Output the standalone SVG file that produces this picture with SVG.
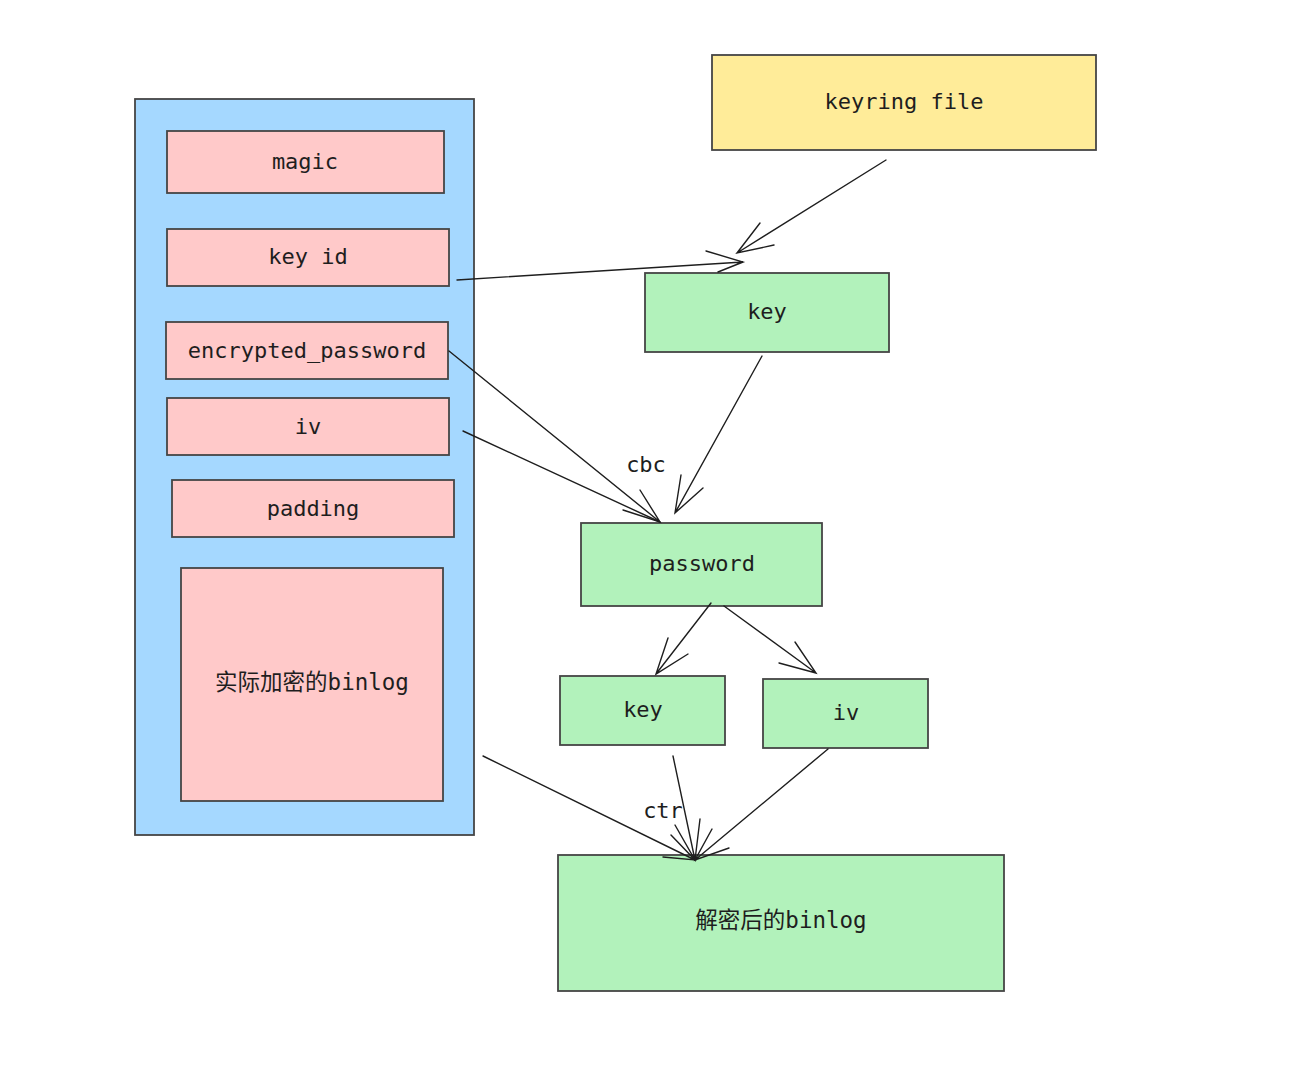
<svg xmlns="http://www.w3.org/2000/svg" width="1290" height="1065" viewBox="0 0 1290 1065">
<style>
.box{stroke:#454545;stroke-width:1.8}
.blue{fill:#a5d8ff}.pink{fill:#ffc9c9}.green{fill:#b2f2bb}.yellow{fill:#ffec99}
text{font-family:"DejaVu Sans Mono","Liberation Mono","Noto Sans CJK SC",monospace;font-size:22px;fill:#1e1e1e;text-anchor:middle;dominant-baseline:central}
.cjk{font-family:"DejaVu Sans Mono","Noto Sans CJK SC",monospace;font-size:22.5px}
.c{fill:none;stroke:#1e1e1e;stroke-width:1.4;stroke-linecap:round}
</style>
<rect width="1290" height="1065" fill="#ffffff"/>
<g id="container"><rect class="box blue" x="135" y="99" width="339" height="736"/></g>
<g id="magic"><rect class="box pink" x="167" y="131" width="277" height="62"/><text x="305" y="161">magic</text></g>
<g id="keyid"><rect class="box pink" x="167" y="229" width="282" height="57"/><text x="308" y="256">key id</text></g>
<g id="encpwd"><rect class="box pink" x="166" y="322" width="282" height="57"/><text x="307" y="350">encrypted_password</text></g>
<g id="iv1"><rect class="box pink" x="167" y="398" width="282" height="57"/><text x="308" y="426">iv</text></g>
<g id="padding"><rect class="box pink" x="172" y="480" width="282" height="57"/><text x="313" y="508">padding</text></g>
<g id="encbinlog"><rect class="box pink" x="181" y="568" width="262" height="233"/><text class="cjk" x="312" y="682">实际加密的binlog</text></g>
<g id="keyring"><rect class="box yellow" x="712" y="55" width="384" height="95"/><text x="904" y="101">keyring file</text></g>
<g id="key"><rect class="box green" x="645" y="273" width="244" height="79"/><text x="767" y="311">key</text></g>
<g id="password"><rect class="box green" x="581" y="523" width="241" height="83"/><text x="702" y="563">password</text></g>
<g id="key2"><rect class="box green" x="560" y="676" width="165" height="69"/><text x="643" y="709">key</text></g>
<g id="iv2"><rect class="box green" x="763" y="679" width="165" height="69"/><text x="846" y="712">iv</text></g>
<g id="decbinlog"><rect class="box green" x="558" y="855" width="446" height="136"/><text class="cjk" x="781" y="920">解密后的binlog</text></g>
<g id="connectors">
<path class="c" d="M886 160 L737 253 M760 223 L737 253 L774 245"/>
<path class="c" d="M457 280 L743 262 M706 251 L743 262 L718 272"/>
<path class="c" d="M762 356 L675 513 M681 475 L675 513 L703 488"/>
<path class="c" d="M449 351 L660 522 M640 490 L660 522 L623 510"/>
<path class="c" d="M463 431 L660 522"/>
<path class="c" d="M711 603 L656 674 M668 638 L656 674 L688 654"/>
<path class="c" d="M724 606 L816 673 M795 642 L816 673 L779 663"/>
<path class="c" d="M673 756 L695 860 M700 819 L695 860 L675 825"/>
<path class="c" d="M828 749 L695 860 M712 829 L695 860 L729 848"/>
<path class="c" d="M483 756 L695 860 M671 835 L695 860 L663 857"/>
<text x="646" y="464">cbc</text>
<text x="663" y="810">ctr</text>
</g>
</svg>
